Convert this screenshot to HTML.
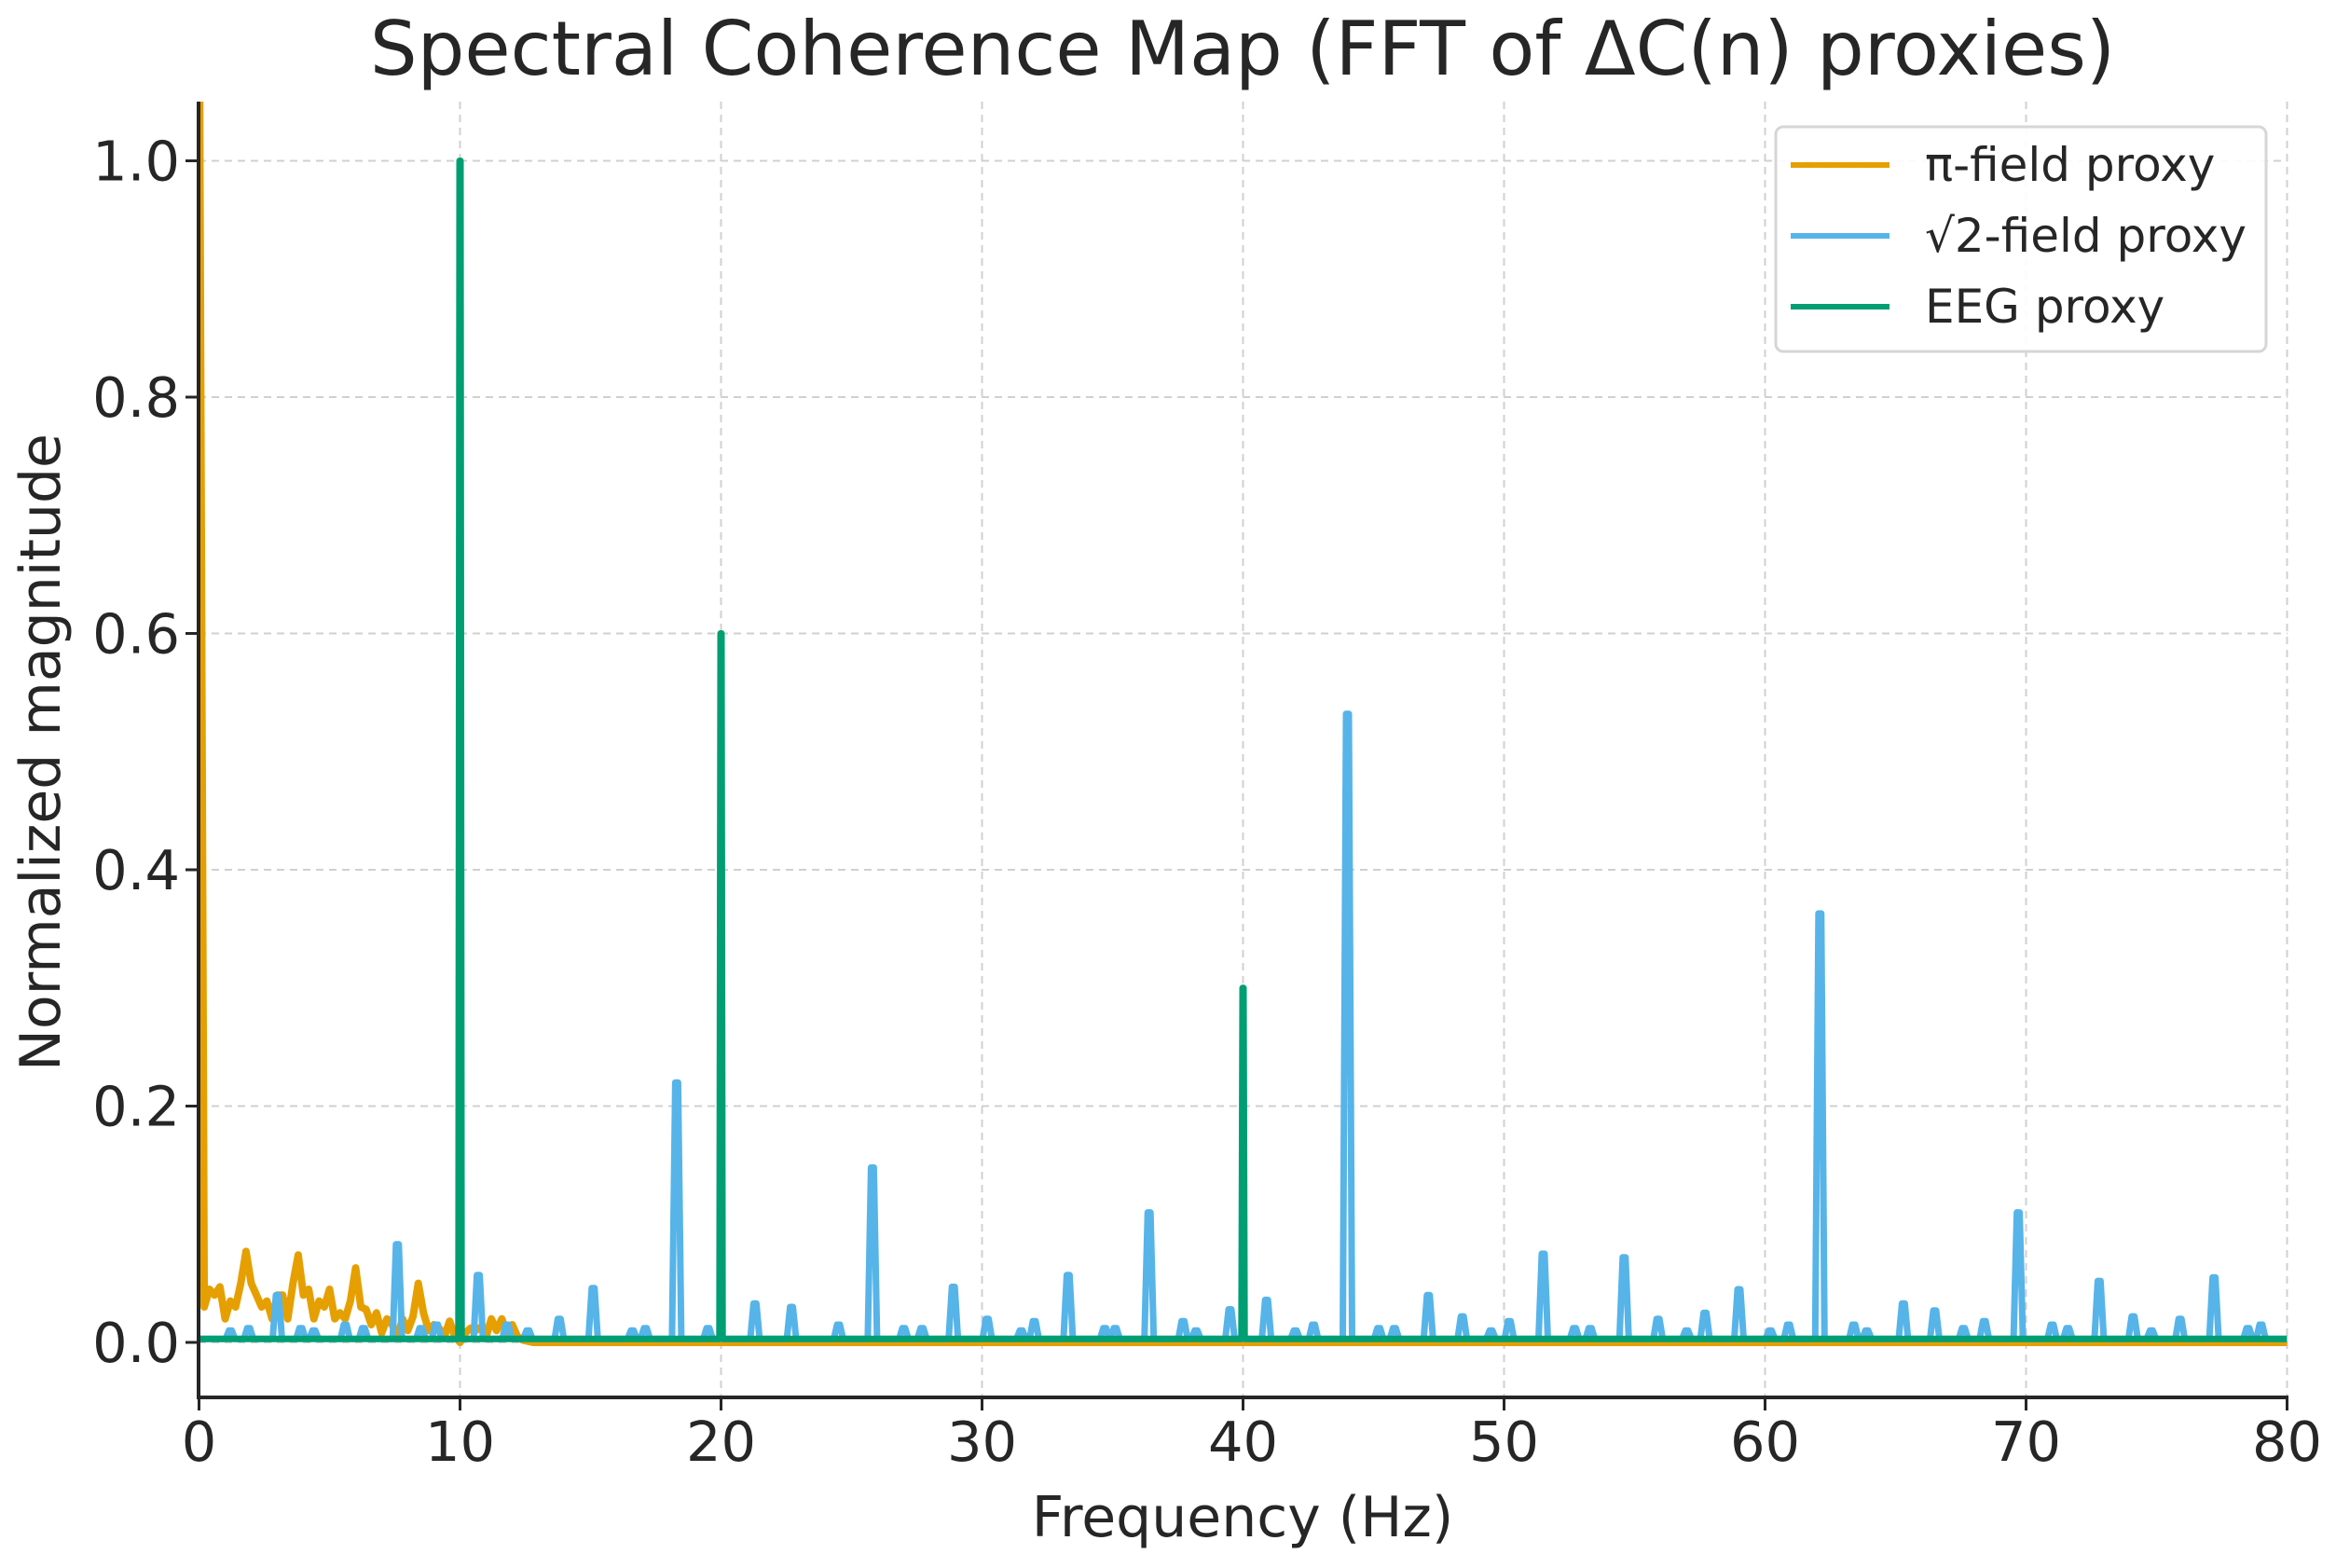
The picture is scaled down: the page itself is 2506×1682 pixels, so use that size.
<!DOCTYPE html>
<html><head><meta charset="utf-8"><style>
html,body{margin:0;padding:0;background:#fff;}
svg text{font-family:"DejaVu Sans","Liberation Sans",sans-serif;fill:#262626;}
</style></head><body>
<svg id="chart" width="2506" height="1677" viewBox="0 0 2506 1677" xmlns="http://www.w3.org/2000/svg">
<defs><clipPath id="plotclip"><rect x="213" y="109" width="2241" height="1390"/></clipPath></defs>
<text x="1333" y="80" font-size="80" text-anchor="middle">Spectral Coherence Map (FFT of ΔC(n) proxies)</text>
<g id="grid"></g>
<g id="series" clip-path="url(#plotclip)"></g>
<g id="axes"></g>
<text x="1333" y="1648" font-size="60" text-anchor="middle">Frequency (Hz)</text>
<text x="64" y="807" font-size="60" text-anchor="middle" transform="rotate(-90 64 807)">Normalized magnitude</text>
<g>
<rect x="1905" y="136" width="526" height="241" rx="8" fill="#fff" fill-opacity="0.9" stroke="#d6d6d6" stroke-width="3"/>
<line x1="1921" y1="177" x2="2027" y2="177" stroke="#E69F00" stroke-width="6"/>
<text x="2065" y="194" font-size="50">π-field proxy</text>
<line x1="1921" y1="253" x2="2027" y2="253" stroke="#56B4E9" stroke-width="6"/>
<text x="2065" y="270" font-size="50">√2-field proxy</text>
<line x1="1921" y1="329" x2="2027" y2="329" stroke="#009E73" stroke-width="6"/>
<text x="2065" y="346" font-size="50">EEG proxy</text>
</g>
</svg>
<script>
const xTicks = [0,10,20,30,40,50,60,70,80];
const yTicks = [0.0,0.2,0.4,0.6,0.8,1.0];
const yTickLabels = ["0.0","0.2","0.4","0.6","0.8","1.0"];
const piFreqs = [0,0.2,0.4,0.6,0.8,1.0,1.2,1.4,1.6,1.8,2.0,2.2,2.4,2.6,2.8,3.0,3.2,3.4,3.6,3.8,4.0,4.2,4.4,4.6,4.8,5.0,5.2,5.4,5.6,5.8,6.0,6.2,6.4,6.6,6.8,7.0,7.2,7.4,7.6,7.8,8.0,8.2,8.4,8.6,8.8,9.0,9.2,9.4,9.6,9.8,10.0,10.2,10.4,10.6,10.8,11.0,11.2,11.4,11.6,11.8,12.0,12.2,12.4,12.8,80];
const piValues = [1.2,0.03,0.045,0.04,0.047,0.02,0.035,0.03,0.05,0.077,0.05,0.04,0.03,0.035,0.02,0.04,0.04,0.02,0.05,0.074,0.04,0.045,0.02,0.035,0.03,0.045,0.02,0.025,0.02,0.035,0.063,0.03,0.028,0.015,0.025,0.008,0.02,0.015,0.005,0.02,0.01,0.022,0.05,0.025,0.01,0.015,0.012,0.005,0.018,0.005,0.0,0.008,0.012,0.01,0.013,0.005,0.02,0.01,0.02,0.008,0.015,0.005,0.002,0.0,0.0];
const sqrtPeakFreqs = [1.2,1.9,3.0,3.9,4.4,5.6,6.3,7.6,8.5,9.1,10.7,11.8,12.6,13.8,15.1,16.6,17.1,18.3,19.5,21.3,22.7,24.5,25.8,27.0,27.7,28.9,30.2,31.5,32.0,33.3,34.7,35.1,36.4,37.7,38.2,39.5,40.9,42.0,42.7,44.0,45.2,45.8,47.1,48.4,49.5,50.2,51.5,52.7,53.3,54.6,55.9,57.0,57.7,59.0,60.2,60.9,62.1,63.4,63.9,65.3,66.5,67.6,68.4,69.7,71.0,71.6,72.8,74.1,74.8,75.9,77.2,78.5,79.0];
const sqrtPeakValues = [0.01,0.012,0.04,0.012,0.01,0.015,0.012,0.083,0.012,0.015,0.057,0.015,0.01,0.02,0.046,0.01,0.012,0.22,0.012,0.033,0.03,0.015,0.148,0.012,0.012,0.047,0.02,0.01,0.018,0.057,0.012,0.012,0.11,0.018,0.01,0.028,0.036,0.01,0.015,0.532,0.012,0.012,0.04,0.022,0.01,0.018,0.075,0.012,0.012,0.072,0.02,0.01,0.025,0.045,0.01,0.015,0.363,0.015,0.01,0.033,0.027,0.012,0.018,0.11,0.015,0.012,0.052,0.022,0.01,0.02,0.055,0.012,0.015];
const eegPeakFreqs = [10,20,40];
const eegPeakValues = [1.0,0.6,0.3];
const baseline = 0.003;

const X0=213.5, X1=2453.5, Y0=1440, Y1=172.5;
const xs = f => X0 + (f/80)*(X1-X0);
const ys = v => Y0 - v*(Y0-Y1);
const NS="http://www.w3.org/2000/svg";
function mk(tag, attrs, parent){const e=document.createElementNS(NS,tag);for(const k in attrs)e.setAttribute(k,attrs[k]);parent.appendChild(e);return e;}
const grid=document.getElementById('grid'), axes=document.getElementById('axes'), series=document.getElementById('series');

xTicks.forEach(t=>{
  const g=mk('line',{x1:xs(t),x2:xs(t),y1:109,y2:1499,stroke:'#d0d0d0','stroke-width':2,'stroke-dasharray':'8,6'},grid);
  
  
  const tk=mk('line',{x1:xs(t),x2:xs(t),y1:1499,y2:1513,stroke:'#262626','stroke-width':3},axes);
  
  
  const lb=mk('text',{x:xs(t),y:1567,'font-size':59,'text-anchor':'middle'},axes);
  lb.textContent=t;
  
  
});
yTicks.forEach((t,i)=>{
  const g=mk('line',{x1:213,x2:2454,y1:ys(t),y2:ys(t),stroke:'#d0d0d0','stroke-width':2,'stroke-dasharray':'8,6'},grid);
  
  
  const tk=mk('line',{x1:199,x2:213,y1:ys(t),y2:ys(t),stroke:'#262626','stroke-width':3},axes);
  
  
  const lb=mk('text',{x:193,y:ys(t)+21,'font-size':59,'text-anchor':'end'},axes);
  lb.textContent=yTickLabels[i];
  
  
});
const sl=mk('line',{x1:213,x2:213,y1:109,y2:1500,stroke:'#262626','stroke-width':4},axes);


const sb=mk('line',{x1:211,x2:2455,y1:1499,y2:1499,stroke:'#262626','stroke-width':4},axes);



function peakPath(freqs, vals, hw){
  let pts=[[0,baseline]];
  freqs.forEach((f,i)=>{pts.push([f-hw,baseline]);pts.push([f-hw*0.3,vals[i]]);pts.push([f+hw*0.3,vals[i]]);pts.push([f+hw,baseline]);});
  pts.push([80,baseline]);
  return pts.map(p=>xs(p[0]).toFixed(1)+','+ys(p[1]).toFixed(1)).join(' ');
}
const piPts=piFreqs.map((f,i)=>xs(f).toFixed(1)+','+ys(piValues[i]).toFixed(1)).join(' ');
const p1=mk('polyline',{points:piPts,fill:'none',stroke:'#E69F00','stroke-width':8,'stroke-linejoin':'round'},series);


const p2=mk('polyline',{points:peakPath(sqrtPeakFreqs,sqrtPeakValues,0.18),fill:'none',stroke:'#56B4E9','stroke-width':7,'stroke-linejoin':'round'},series);


const p3=mk('polyline',{points:peakPath(eegPeakFreqs,eegPeakValues,0.06),fill:'none',stroke:'#009E73','stroke-width':7,'stroke-linejoin':'round'},series);


</script>
</body></html>
